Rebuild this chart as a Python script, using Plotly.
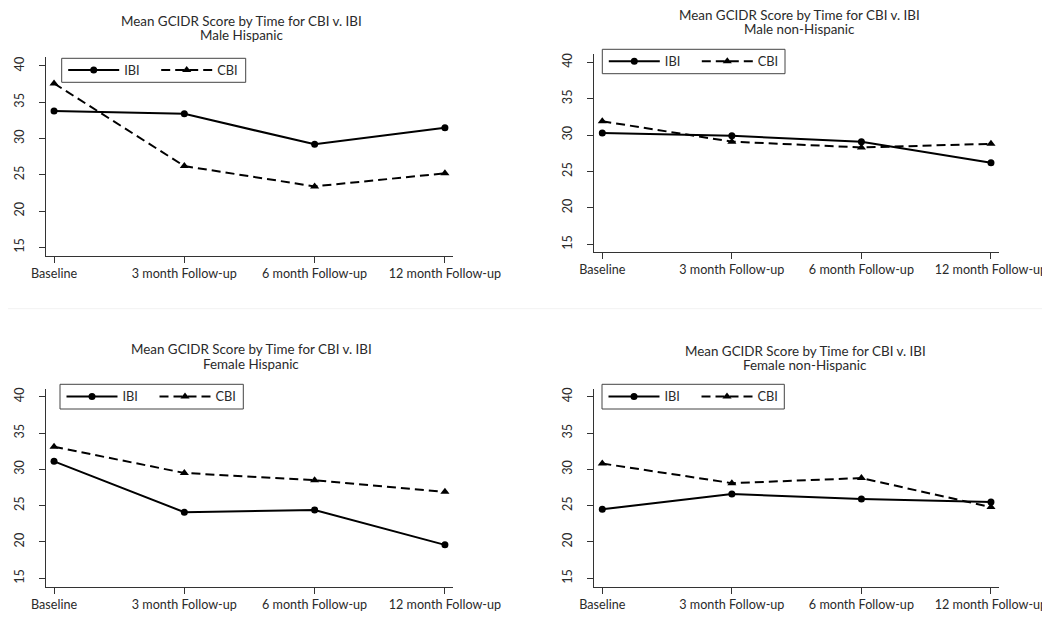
import plotly.graph_objects as go

# The page body has an 8px margin: the figure is drawn 8px right/down.
OFF = 8
W, H = 1050 - OFF, 629 - OFF

categories = ["Baseline", "3 month Follow-up", "6 month Follow-up", "12 month Follow-up"]
title_main = "Mean GCIDR Score by Time for CBI v. IBI"
subtitles = ["Male Hispanic", "Male non-Hispanic", "Female Hispanic", "Female non-Hispanic"]

ibi_male_hisp = [33.8, 33.4, 29.2, 31.5]
cbi_male_hisp = [37.6, 26.2, 23.4, 25.2]
ibi_male_nonhisp = [30.3, 29.9, 29.1, 26.2]
cbi_male_nonhisp = [31.9, 29.1, 28.3, 28.8]
ibi_female_hisp = [31.1, 24.1, 24.4, 19.6]
cbi_female_hisp = [33.1, 29.5, 28.5, 26.9]
ibi_female_nonhisp = [24.5, 26.6, 25.9, 25.5]
cbi_female_nonhisp = [30.8, 28.1, 28.8, 24.8]

y_ticks = [15, 20, 25, 30, 35, 40]

ibi_series = [ibi_male_hisp, ibi_male_nonhisp, ibi_female_hisp, ibi_female_nonhisp]
cbi_series = [cbi_male_hisp, cbi_male_nonhisp, cbi_female_hisp, cbi_female_nonhisp]

FONT = "Lato"
TXT = "#2a2a2a"
AX = "#333333"


def px_x(v):
    return (v - OFF) / W


def px_y(v):
    return 1 - (v - OFF) / H


# panel geometry in window pixels
panels = [
    dict(l=45.7, r=453.0, t=57.0, b=256.0, yr=[13.80, 41.24], tx=241.7, ty=20.7,
         box=(61.7, 58.3, 245.7, 82.3)),
    dict(l=594.0, r=999.0, t=54.0, b=252.3, yr=[13.90, 41.14], tx=799.2, ty=15.0,
         box=(602.3, 49.3, 785.0, 73.7)),
    dict(l=45.7, r=453.0, t=389.3, b=586.7, yr=[13.84, 41.02], tx=251.0, ty=349.3,
         box=(60.0, 384.3, 243.3, 409.0)),
    dict(l=594.0, r=999.0, t=389.3, b=586.7, yr=[13.84, 41.02], tx=805.0, ty=350.7,
         box=(602.0, 384.3, 784.3, 409.0)),
]

fig = go.Figure()
annotations = []
shapes = [dict(type="line", xref="paper", yref="paper", x0=0, x1=1,
               y0=px_y(308.7), y1=px_y(308.7), line=dict(color="#f2f2f2", width=1))]
layout = {}
for i, p in enumerate(panels):
    n = "" if i == 0 else str(i + 1)
    lgname = "legend" + n
    fig.add_trace(go.Scatter(
        x=categories, y=ibi_series[i], name="IBI", mode="lines+markers",
        line=dict(color="black", width=2), marker=dict(symbol="circle", size=7, color="black"),
        xaxis="x" + n, yaxis="y" + n, legend=lgname))
    fig.add_trace(go.Scatter(
        x=categories, y=cbi_series[i], name="CBI", mode="lines+markers",
        line=dict(color="black", width=2, dash="9px,5px"),
        marker=dict(symbol="triangle-up", size=8, color="black"),
        xaxis="x" + n, yaxis="y" + n, legend=lgname))
    layout["xaxis" + n] = dict(
        domain=[px_x(p["l"]), px_x(p["r"])], anchor="y" + n, type="category",
        range=[-0.064, 3.062], showline=True, linecolor=AX, linewidth=1,
        ticks="outside", ticklen=6, tickcolor=AX, showgrid=False, zeroline=False,
        tickfont=dict(family=FONT, size=12.6, color=TXT), fixedrange=True,
        automargin=False)
    layout["yaxis" + n] = dict(
        domain=[px_y(p["b"]), px_y(p["t"])], anchor="x" + n,
        range=p["yr"], tickvals=y_ticks, showline=True, linecolor=AX, linewidth=1,
        ticks="outside", ticklen=6, tickcolor=AX, showgrid=False, zeroline=False,
        tickangle=-90, tickfont=dict(family=FONT, size=12.6, color=TXT),
        ticklabelstandoff=10, fixedrange=True, automargin=False)
    bx0, by0, bx1, by1 = p["box"]
    shapes.append(dict(type="rect", xref="paper", yref="paper", layer="above",
                       x0=px_x(bx0), x1=px_x(bx1), y0=px_y(by1), y1=px_y(by0),
                       line=dict(color="#444444", width=1), fillcolor="white"))
    cy = (by0 + by1) / 2
    layout[lgname] = dict(
        x=px_x(bx0 + 1.5), y=px_y(cy - 15), xanchor="left", yanchor="top",
        orientation="h", borderwidth=0, bgcolor="rgba(0,0,0,0)",
        font=dict(family=FONT, size=12.8, color=TXT), itemwidth=51,
        entrywidth=27, entrywidthmode="pixels", tracegroupgap=0)
    annotations.append(dict(
        x=px_x(p["tx"]), y=px_y(p["ty"]), xref="paper", yref="paper",
        text=title_main, showarrow=False, xanchor="center", yanchor="middle",
        font=dict(family=FONT, size=13.4, color=TXT)))
    annotations.append(dict(
        x=px_x(p["tx"]), y=px_y(p["ty"] + 14.3), xref="paper", yref="paper",
        text=subtitles[i], showarrow=False, xanchor="center", yanchor="middle",
        font=dict(family=FONT, size=13.4, color=TXT)))

fig.update_layout(
    width=W, height=H, margin=dict(l=0, r=0, t=0, b=0, autoexpand=False),
    paper_bgcolor="white", plot_bgcolor="white",
    annotations=annotations, showlegend=True, shapes=shapes,
    **layout)

fig.write_html("out.html")
